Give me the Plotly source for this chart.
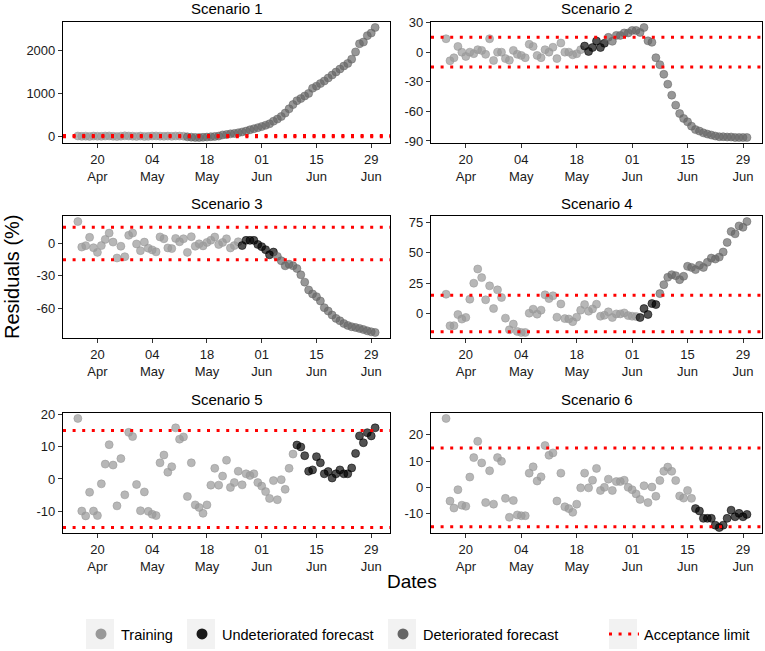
import pandas as pd
import plotly.graph_objects as go

# ---------------- data ----------------
START_DATE = "2020-04-15"
N_DAYS = 77
dates = pd.date_range(START_DATE, periods=N_DAYS, freq="D")

SCENARIOS = ["Scenario 1", "Scenario 2", "Scenario 3", "Scenario 4", "Scenario 5", "Scenario 6"]

s1 = [5, -3, 2, -4, 3, 0, -2, 4, 6, -1, -6, 2, 8, 5, 1, -4, 3, -5, -3, 4, 6, 2, -2, 3, -3, 5, 4, 1,
      -15, -22, -28, -30, -25, -20, -12, -5, 3,
      30, 40, 55, 65, 80, 100, 120, 150, 175, 200, 225, 255, 290, 350, 400, 460, 540, 640, 740, 830,
      880, 940, 1000, 1120, 1170, 1230, 1290, 1360, 1430, 1500, 1570, 1640, 1700, 1800, 1970, 2160,
      2200, 2350, 2410, 2540]
s2 = [13.6, -8.7, -5.7, 5.8, 0, -4.3, 0, -1.5, 2.5, 1.8, -2.2, 13.6, -8.4, 0, 0, -6.5, -8.2, 1.8,
      -2.2, -3.3, -5.6, 8, 5.8, -3.3, -5.6, 2.5, 0, 5, -6.5, 9.3, 0, 0, -2.7, -1.6, 2.5, 6.2, 0.7,
      4.7, 11.3, 4.7, 9, 15, 11, 17, 17, 19.5, 19.5, 22, 22, 20, 25, 11.5, 10, -5.6, -12.7, -22.4,
      -32.5, -43.6, -53.7, -62.2, -67.2, -70.6, -75, -78.5, -80, -81.8, -83, -84, -85, -85.7, -85.7,
      -86, -86, -86.5, -86.5, -86.5, -86.5]
s3 = [20.2, -3.4, -2.1, 5.6, -4, -8.3, -2, 3.7, 9.5, 1.2, -13.5, -2.6, -12.3, 7.5, 9.5, -0.5, -6.7,
      1.2, -4.4, -6, -7.8, 6, 4.3, -4.2, -4.8, 4.6, 1.5, 4.3, -8.3, 6.2, -2.6, -0.4, -2.3, 0.9, 3,
      5.9, -1, 0.9, 4.3, -4.2, -2, 1.5, -2, 2.8, 2.8, 2.8, -1, -3, -5.8, -10.5, -8, -12, -16, -20.7,
      -19.2, -20.7, -23.2, -29, -35.8, -43, -46.7, -49.2, -53.2, -59.4, -62.5, -66.2, -69.3, -71.5,
      -74, -75.8, -77, -77.7, -78.6, -79.6, -80.8, -81.7, -82.3]
s4 = [15.9, -10.1, -10, -0.8, -4.6, -3.2, 11.8, 25, 36.7, 29.6, 11.3, 22.8, 4.1, 19.5, 13.2, -3.8,
      -13.4, -8.7, -14.8, -15.6, -15.6, 0.3, 3.6, -0.5, 2.8, 15.4, 12.3, 14.6, -3, 7.9, -4.2, -4.5,
      -6.7, -3, 2.8, 7.4, 1.9, 3.8, 7.7, -2.2, -1.4, 1.4, -3.3, -0.3, -0.3, 0.5, -1.7, -2.2, -2.5,
      -3.3, 4.1, -0.8, 8.2, 7.4, 16.4, 23.8, 29.9, 32, 31.2, 27.9, 30.7, 38.9, 38, 36.2, 39.7, 38,
      42.2, 45.7, 44.9, 46.5, 50.7, 58.6, 67.6, 65.7, 72.2, 71.1, 75.8]
s5 = [18.7, -9.9, -11.4, -4.1, -9.9, -11.3, -1.5, 4.6, 10.6, 4.3, -8.3, 6.3, -4.9, 14.4, 13.1, -1.7,
      -9.8, -4, -10, -10.9, -11.3, 5, 7.4, 2.1, 3.8, 15.8, 12.3, 13, -5.4, 5, -8, -8.8, -10.6, -8,
      -1.9, 3.3, -1.9, 0.9, 5.8, -2.6, -1.1, 2.4, -1.8, 1.6, 1.1, 1.6, -1.1, -2.2, -3.9, -6, -0.5,
      -6.4, -0.2, -3.2, 3.3, 7.7, 10.5, 9.9, 7.2, 2.4, 2.8, 6.9, 5, 1.6, 2.3, 0.3, 1.6, 2.8, 1.6,
      1.6, 3.4, 7.9, 13.3, 11.2, 14.3, 13.3, 15.8]
s6 = [26.2, -5.2, -7.9, -0.9, -6.8, -7.2, 3.9, 11.3, 17.5, 9.3, -5.8, 6.3, -6.4, 11.3, 9.9, -4.2,
      -11.4, -5, -10.5, -10.8, -10.8, 5.4, 7.8, 2.4, 4, 15.9, 12.2, 13.1, -5.2, 5.4, -7.4, -8.1,
      -9.5, -6.4, -0.2, 5.4, -0.2, 2.7, 7.2, -1.2, 0, 3.1, -1.2, 2.2, 2.2, 2.7, 0, -0.9, -2.5, -4.6,
      0.6, -5.8, 0.1, -3.4, 2.6, 6.1, 7.7, 6.1, 2.6, -3.3, -4.1, -1.2, -4.2, -8.1, -9, -11.8, -11.8,
      -11.8, -14.4, -15.3, -14.4, -11.8, -8.7, -11.2, -9.9, -11.2, -10.3]
SERIES = [s1, s2, s3, s4, s5, s6]

# number of training days and of undeteriorated forecast days per scenario (rest: deteriorated)
TRAIN_COUNT = [28, 35, 42, 49, 56, 63]
UNDET_COUNT = [0, 6, 9, 5, 21, 14]

LIMITS = [15, -15]

XTICK_DATES = ["2020-04-20", "2020-05-04", "2020-05-18", "2020-06-01", "2020-06-15", "2020-06-29"]
XTICK_TEXT = ["20<br>Apr", "04<br>May", "18<br>May", "01<br>Jun", "15<br>Jun", "29<br>Jun"]
YTICKS = [[0, 1000, 2000], [-90, -60, -30, 0, 30], [-60, -30, 0], [0, 25, 50, 75],
          [-10, 0, 10, 20], [-10, 0, 10, 20]]

PHASES = ["Training", "Undeteriorated forecast", "Deteriorated forecast"]
POINT_COLORS = ["rgba(153,153,153,0.70)", "rgba(0,0,0,0.68)", "rgba(102,102,102,0.68)"]
LEGEND_COLORS = ["#999999", "#1a1a1a", "#666666"]
LIMIT_COLOR = "#ff0000"

# ---------------- layout geometry (pixels) ----------------
W, H = 765, 651
COL_X = [(63, 390), (431, 762)]
ROW_Y = [(22, 143), (216, 338), (413, 533)]
TITLE_Y = [8, 204, 399]
FONT = "Arial, Liberation Sans, sans-serif"


def px(x):
    return x / W


def py(y):
    return 1 - y / H


fig = go.Figure()

x_min, x_max = dates.min(), dates.max()
x_pad = (x_max - x_min) * 0.05
x_range = [x_min - x_pad, x_max + x_pad]

shapes = []
annotations = []
for k, (name, vals) in enumerate(zip(SCENARIOS, SERIES)):
    n = k + 1
    xa = "x" if n == 1 else f"x{n}"
    ya = "y" if n == 1 else f"y{n}"
    r, c = divmod(k, 2)
    t = TRAIN_COUNT[k]
    u = t + UNDET_COUNT[k]
    slices = [(0, t), (t, u), (u, len(vals))]
    for p, (a, b) in enumerate(slices):
        if b <= a:
            continue
        fig.add_trace(go.Scatter(
            x=dates[a:b], y=vals[a:b], mode="markers", xaxis=xa, yaxis=ya,
            marker=dict(size=8, color=POINT_COLORS[p],
                        line=dict(width=0.8, color=POINT_COLORS[p])),
            name=PHASES[p], showlegend=False, hoverinfo="x+y"))
    lo = min(min(vals), min(LIMITS))
    hi = max(max(vals), max(LIMITS))
    pad = (hi - lo) * 0.05
    x0, x1 = COL_X[c]
    y0, y1 = ROW_Y[r]
    axkey = "xaxis" if n == 1 else f"xaxis{n}"
    aykey = "yaxis" if n == 1 else f"yaxis{n}"
    common = dict(showgrid=False, zeroline=False, showline=True, mirror=True,
                  linecolor="black", linewidth=1.2, ticks="outside", ticklen=4,
                  tickwidth=1, tickcolor="#333333", automargin=False,
                  tickfont=dict(family=FONT, size=13, color="#1a1a1a"))
    fig.layout[axkey] = dict(common, domain=[px(x0), px(x1)], anchor=ya, range=x_range,
                             type="date", tickvals=XTICK_DATES, ticktext=XTICK_TEXT)
    fig.layout[aykey] = dict(common, domain=[py(y1), py(y0)], anchor=xa,
                             range=[lo - pad, hi + pad], tickvals=YTICKS[k],
                             ticktext=[str(v) for v in YTICKS[k]])
    for lim in LIMITS:
        shapes.append(dict(type="line", xref=f"{xa} domain", yref=ya, x0=0, x1=1,
                           y0=lim, y1=lim, layer="above",
                           line=dict(color=LIMIT_COLOR, width=3, dash="3px,6.6px")))
    annotations.append(dict(text=name, x=px((x0 + x1) / 2), y=py(TITLE_Y[r]),
                            xref="paper", yref="paper", showarrow=False,
                            xanchor="center", yanchor="middle",
                            font=dict(family=FONT, size=15, color="black")))

# axis titles
annotations.append(dict(text="Residuals (%)", x=px(12), y=py(277), xref="paper",
                        yref="paper", showarrow=False, textangle=-90, xanchor="center",
                        yanchor="middle", font=dict(family=FONT, size=20, color="black")))
annotations.append(dict(text="Dates", x=px(412), y=py(581), xref="paper",
                        yref="paper", showarrow=False, xanchor="center", yanchor="middle",
                        font=dict(family=FONT, size=19, color="black")))

# legend-only entries, each in its own legend box for exact placement
LEGEND_NAMES = ["legend", "legend2", "legend3", "legend4"]
LEGEND_X = [81, 182, 383, 604]
LEGEND_Y = 634
for p, nm in enumerate(PHASES):
    fig.add_trace(go.Scatter(x=[None], y=[None], mode="markers", name=nm,
                             marker=dict(size=11, color=LEGEND_COLORS[p]),
                             legend=LEGEND_NAMES[p], showlegend=True))
fig.add_trace(go.Scatter(x=[None], y=[None], mode="lines", name="Acceptance limit",
                         line=dict(color=LIMIT_COLOR, width=3, dash="3px,6.6px"),
                         legend=LEGEND_NAMES[3], showlegend=True))

# gray legend key backgrounds
for lx in LEGEND_X:
    cx = lx + 19
    shapes.append(dict(type="rect", xref="paper", yref="paper", layer="below",
                       x0=px(cx - 14), x1=px(cx + 14),
                       y0=py(LEGEND_Y + 15), y1=py(LEGEND_Y - 15),
                       fillcolor="#f2f2f2", line=dict(width=0)))

legend_style = dict(orientation="h", yanchor="middle", xanchor="left",
                    font=dict(family=FONT, size=14.5, color="black"),
                    bgcolor="rgba(0,0,0,0)", borderwidth=0)
legends = {name: dict(legend_style, x=px(lx), y=py(LEGEND_Y))
           for name, lx in zip(LEGEND_NAMES, LEGEND_X)}

fig.update_layout(
    width=W, height=H, margin=dict(l=0, r=0, t=0, b=0, autoexpand=False),
    paper_bgcolor="white", plot_bgcolor="white",
    shapes=shapes, annotations=annotations,
    **legends,
)

fig.write_html("out.html", config={"displayModeBar": False},
               post_script="document.body.style.margin='0px';"
                           "document.body.style.overflow='hidden';")
